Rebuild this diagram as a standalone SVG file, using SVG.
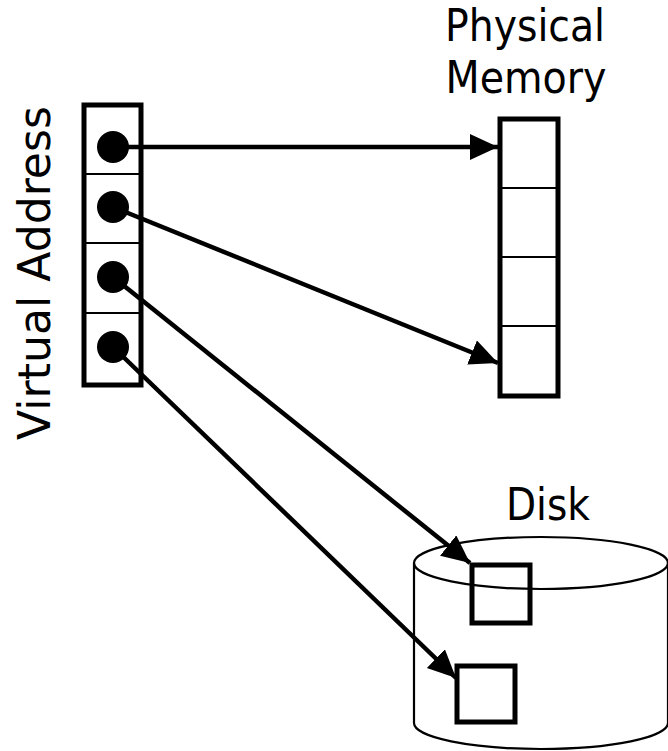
<svg xmlns="http://www.w3.org/2000/svg" width="668" height="751" viewBox="0 0 668 751">
<style>
.lbl{font-family:"DejaVu Sans",Verdana,sans-serif;font-size:45px;fill:#000}
.thick{fill:none;stroke:#000;stroke-width:5}
.thin{fill:none;stroke:#000;stroke-width:2.2}
.conn{fill:none;stroke:#000;stroke-width:4.5}
</style>
<defs>
<marker id="ah" markerUnits="userSpaceOnUse" markerWidth="30" markerHeight="28" refX="28" refY="13" orient="auto" viewBox="0 0 30 28">
<path d="M0,0 L28,13 L0,26 z" fill="#000"/>
</marker>
</defs>
<rect width="668" height="751" fill="#fff"/>
<g id="virtual-address">
<rect class="thick" x="84" y="105" width="57" height="280"/>
<line class="thin" x1="84" y1="174" x2="141" y2="174"/>
<line class="thin" x1="84" y1="243" x2="141" y2="243"/>
<line class="thin" x1="84" y1="313" x2="141" y2="313"/>
<circle cx="113" cy="147" r="16"/>
<circle cx="113" cy="207" r="16"/>
<circle cx="113" cy="277" r="16"/>
<circle cx="113" cy="347" r="16"/>
<text class="lbl" text-anchor="middle" textLength="334" lengthAdjust="spacingAndGlyphs" transform="translate(50,273) rotate(-90)">Virtual Address</text>
</g>
<g id="physical-memory">
<rect class="thick" x="500" y="119" width="58" height="277"/>
<line class="thin" x1="500" y1="188" x2="558" y2="188"/>
<line class="thin" x1="500" y1="257" x2="558" y2="257"/>
<line class="thin" x1="500" y1="326" x2="558" y2="326"/>
<text class="lbl" x="525" y="41" text-anchor="middle" textLength="160" lengthAdjust="spacingAndGlyphs">Physical</text>
<text class="lbl" x="526" y="93" text-anchor="middle" textLength="161" lengthAdjust="spacingAndGlyphs">Memory</text>
</g>
<g id="disk">
<path class="thin" d="M414,563 L414,723 A127,26 0 0 0 668,723 L668,563"/>
<ellipse class="thin" cx="541" cy="563" rx="127" ry="26"/>
<rect class="thick" x="472" y="565" width="58" height="58"/>
<rect class="thick" x="457" y="666" width="58" height="56"/>
<text class="lbl" x="548" y="520" text-anchor="middle" textLength="84" lengthAdjust="spacingAndGlyphs">Disk</text>
</g>
<g id="connectors">
<line class="conn" x1="113" y1="147" x2="498" y2="147" marker-end="url(#ah)"/>
<line class="conn" x1="113" y1="207" x2="498" y2="363" marker-end="url(#ah)"/>
<line class="conn" x1="113" y1="277" x2="470" y2="563" marker-end="url(#ah)"/>
<line class="conn" x1="113" y1="347" x2="456" y2="678" marker-end="url(#ah)"/>
</g>
</svg>
